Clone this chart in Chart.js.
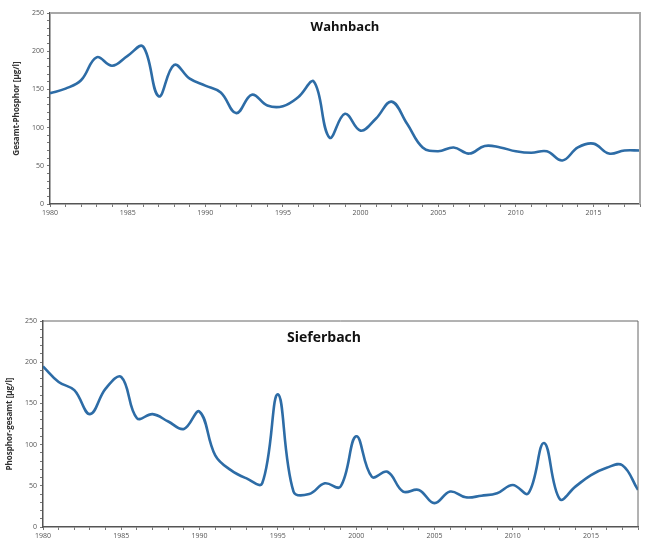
<!DOCTYPE html>
<html><head><meta charset="utf-8">
<script src="https://cdn.jsdelivr.net/npm/chart.js@4.4.0/dist/chart.umd.min.js"></script>
<style>
html,body{margin:0;padding:0;background:#fff;width:645px;height:544px;overflow:hidden;}
.box{position:absolute;left:0;width:645px;}
</style></head><body>
<div class="box" style="top:0;height:225px"><canvas id="c1"></canvas></div>
<div class="box" style="top:305px;height:239px"><canvas id="c2"></canvas></div>
<script>
const years = [];
for (let y = 1980; y <= 2018; y++) years.push(y);
const wahnbachTitle = 'Wahnbach';
const sieferbachTitle = 'Sieferbach';
const wahnbachAxisTitle = 'Gesamt-Phosphor [µg/l]';
const sieferbachAxisTitle = 'Phosphor-gesamt [µg/l]';
const wahnbach = [145,151,162,192,181,194,206,141,182,164,155,146,119,143,129,128,140,160,87,118,96,112,134,105,74,69,74,66,76,74,69,67,69,57,74,79,66,70,70];
const sieferbach = [195,176,166,137,168,182,132,137,128,119,140,87,69,59,53,161,43,40,53,49,110,61,67,43,45,29,43,36,38,41,51,41,102,34,49,63,72,75,45];
const yTicksMajor = [0,50,100,150,200,250];
const xTicksMajor = [1980,1985,1990,1995,2000,2005,2010,2015];

const framePlugin = {
  id:'frame',
  afterDatasetsDraw(chart, args, opts){
    const a = chart.chartArea, ctx = chart.ctx;
    ctx.save();
    ctx.strokeStyle = opts.color; ctx.lineWidth = opts.width;
    ctx.beginPath();
    ctx.moveTo(a.left, a.top); ctx.lineTo(a.right, a.top); ctx.lineTo(a.right, a.bottom);
    ctx.stroke();
    ctx.fillStyle = '#111';
    ctx.font = 'bold ' + opts.titleSize + 'px "Open Sans", sans-serif';
    ctx.textAlign = 'center'; ctx.textBaseline = 'middle';
    ctx.fillText(opts.title, opts.tx, opts.ty);
    ctx.restore();
  }
};

function make(id, values, title, axisTitle, cfg){
  new Chart(document.getElementById(id), {
    type:'line',
    data:{datasets:[{data: years.map((y,i)=>({x:y,y:values[i]})), borderColor:'#2d6ca6', borderWidth:2.6, pointRadius:0, tension:0.4, fill:false}]},
    options:{
      responsive:true, maintainAspectRatio:false, animation:false,
      layout:{padding:{top:cfg.top, right:cfg.right, left:0, bottom:0}},
      plugins:{legend:{display:false}, tooltip:{enabled:false},
        frame:{color:cfg.frameColor, width:cfg.frameWidth, title:title, tx:cfg.tx, ty:cfg.ty, titleSize:cfg.titleSize}},
      scales:{
        x:{type:'linear', min:1980, max:2018,
          afterFit(s){ s.height = cfg.xh; },
          ticks:{stepSize:1, autoSkip:false, maxRotation:0, font:{size:7, family:'"Open Sans", sans-serif'}, color:'#555', padding:2,
            callback:v=> xTicksMajor.includes(v) ? String(v) : ''},
          grid:{drawOnChartArea:false, tickLength:3, color:'#777'},
          border:{color:'#555', width:1.5}},
        y:{min:0, max:250,
          afterFit(s){ s.width = cfg.yw; },
          ticks:{stepSize:10, autoSkip:false, font:{size:7, family:'"Open Sans", sans-serif'}, color:'#555', padding:3,
            callback:v=> yTicksMajor.includes(v) ? String(v) : ''},
          grid:{drawOnChartArea:false, tickLength:3, color:'#777'},
          border:{color:'#555', width:1.5},
          title:{display:true, text:axisTitle, font:{size:8, weight:'bold', family:'"Open Sans", sans-serif'}, color:'#333', padding:{top:cfg.tpad,bottom:4}}}
      }
    },
    plugins:[framePlugin]
  });
}
make('c1', wahnbach, wahnbachTitle, wahnbachAxisTitle, {top:13, right:5, xh:21, yw:50, tpad:12, frameColor:'#a8a8a8', frameWidth:2, tx:345, ty:27, titleSize:13});
make('c2', sieferbach, sieferbachTitle, sieferbachAxisTitle, {top:16, right:7, xh:17, yw:43, tpad:5, frameColor:'#666', frameWidth:1, tx:324, ty:33, titleSize:14});
</script>
</body></html>
